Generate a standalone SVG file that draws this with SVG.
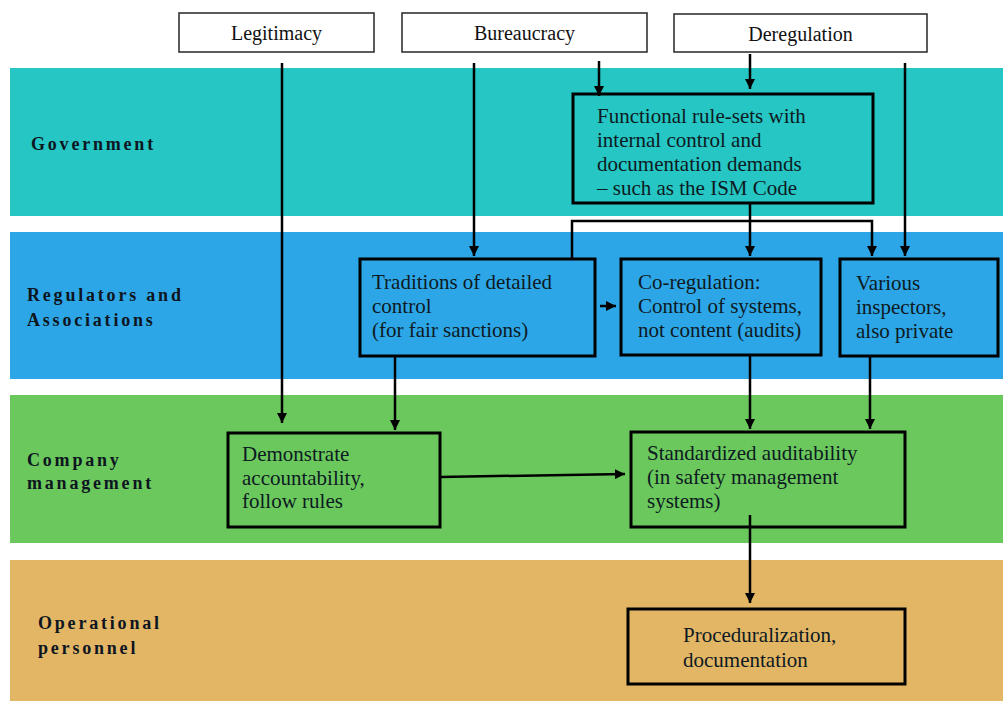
<svg xmlns="http://www.w3.org/2000/svg" width="1003" height="701" viewBox="0 0 1003 701">
  <defs>
    <marker id="arrow" viewBox="0 0 10 10" refX="10" refY="5" markerWidth="10" markerHeight="10" markerUnits="userSpaceOnUse" orient="auto">
      <path d="M0,0 L10,5 L0,10 Z" fill="#000"/>
    </marker>
    <style>
      .band-label { font-family: "Liberation Serif", "Times New Roman", serif; font-weight: bold; font-size: 18px; letter-spacing: 2.8px; fill: #0d1520; }
      .top-box { fill: #fff; stroke: #333; stroke-width: 1.6; }
      .top-text { font-family: "Liberation Serif", "Times New Roman", serif; font-size: 20px; fill: #111; text-anchor: middle; }
      .node-box { fill: none; stroke: #000; stroke-width: 3; }
      .node-text { font-family: "Liberation Serif", "Times New Roman", serif; font-size: 21px; fill: #0d1a22; }
      .conn { fill: none; stroke: #000; stroke-width: 2.5; }
    </style>
  </defs>

  <rect width="1003" height="701" fill="#fff"/>

  <!-- horizontal swimlanes -->
  <g id="lanes">
    <rect x="10" y="68" width="993" height="148" fill="#25C6C3"/>
    <rect x="10" y="232" width="993" height="147" fill="#2DA6E7"/>
    <rect x="10" y="395" width="993" height="148" fill="#6BC85D"/>
    <rect x="10" y="560" width="993" height="141" fill="#E3B666"/>
    <text class="band-label" x="31" y="150">Government</text>
    <text class="band-label" x="27" y="301">Regulators and</text>
    <text class="band-label" x="27" y="326">Associations</text>
    <text class="band-label" x="27" y="466">Company</text>
    <text class="band-label" x="27" y="489">management</text>
    <text class="band-label" x="38" y="629">Operational</text>
    <text class="band-label" x="38" y="654">personnel</text>
  </g>

  <!-- driving forces -->
  <g id="legitimacy">
    <rect class="top-box" x="179" y="13" width="195" height="39"/>
    <text class="top-text" x="276.5" y="40">Legitimacy</text>
  </g>
  <g id="bureaucracy">
    <rect class="top-box" x="402" y="13" width="245" height="39"/>
    <text class="top-text" x="524.5" y="40">Bureaucracy</text>
  </g>
  <g id="deregulation">
    <rect class="top-box" x="674" y="14" width="253" height="38"/>
    <text class="top-text" x="800.5" y="41">Deregulation</text>
  </g>

  <!-- connectors -->
  <g id="connectors">
    <path class="conn" d="M282,63 V423" marker-end="url(#arrow)"/>
    <path class="conn" d="M474,63 V256" marker-end="url(#arrow)"/>
    <path class="conn" d="M599,61 V96" marker-end="url(#arrow)"/>
    <path class="conn" d="M750,54 V89" marker-end="url(#arrow)"/>
    <path class="conn" d="M905,63 V256" marker-end="url(#arrow)"/>
    <path class="conn" d="M750,203 V256" marker-end="url(#arrow)"/>
    <path class="conn" d="M572,259 V221 H872 V256" marker-end="url(#arrow)"/>
    <path class="conn" d="M600,306 H616" marker-end="url(#arrow)"/>
    <path class="conn" d="M395,356 V430" marker-end="url(#arrow)"/>
    <path class="conn" d="M750,355 V429" marker-end="url(#arrow)"/>
    <path class="conn" d="M870,356 V429" marker-end="url(#arrow)"/>
    <path class="conn" d="M440,477 L625,474" marker-end="url(#arrow)"/>
    <path class="conn" d="M750,515 V603" marker-end="url(#arrow)"/>
  </g>

  <!-- government -->
  <g id="functional-rule-sets">
    <rect class="node-box" x="573" y="94" width="300" height="109"/>
    <text class="node-text" x="597" y="123">Functional rule-sets with</text>
    <text class="node-text" x="597" y="147">internal control and</text>
    <text class="node-text" x="597" y="171">documentation demands</text>
    <text class="node-text" x="597" y="195">– such as the ISM Code</text>
  </g>

  <!-- regulators and associations -->
  <g id="traditions">
    <rect class="node-box" x="360" y="259" width="235" height="97"/>
    <text class="node-text" x="372" y="289">Traditions of detailed</text>
    <text class="node-text" x="372" y="313">control</text>
    <text class="node-text" x="372" y="337">(for fair sanctions)</text>
  </g>
  <g id="co-regulation">
    <rect class="node-box" x="621" y="259" width="200" height="96"/>
    <text class="node-text" x="638" y="289">Co-regulation:</text>
    <text class="node-text" x="638" y="313">Control of systems,</text>
    <text class="node-text" x="638" y="337">not content (audits)</text>
  </g>
  <g id="various-inspectors">
    <rect class="node-box" x="840" y="259" width="158" height="97"/>
    <text class="node-text" x="856" y="290">Various</text>
    <text class="node-text" x="856" y="314">inspectors,</text>
    <text class="node-text" x="856" y="338">also private</text>
  </g>

  <!-- company management -->
  <g id="demonstrate-accountability">
    <rect class="node-box" x="228" y="433" width="212" height="94"/>
    <text class="node-text" x="242" y="461">Demonstrate</text>
    <text class="node-text" x="242" y="485">accountability,</text>
    <text class="node-text" x="242" y="508">follow rules</text>
  </g>
  <g id="standardized-auditability">
    <rect class="node-box" x="631" y="432" width="274" height="95"/>
    <text class="node-text" x="647" y="460">Standardized auditability</text>
    <text class="node-text" x="647" y="484">(in safety management</text>
    <text class="node-text" x="647" y="508">systems)</text>
  </g>

  <!-- operational personnel -->
  <g id="proceduralization">
    <rect class="node-box" x="628" y="609" width="277" height="75"/>
    <text class="node-text" x="683" y="642">Proceduralization,</text>
    <text class="node-text" x="683" y="667">documentation</text>
  </g>
</svg>
